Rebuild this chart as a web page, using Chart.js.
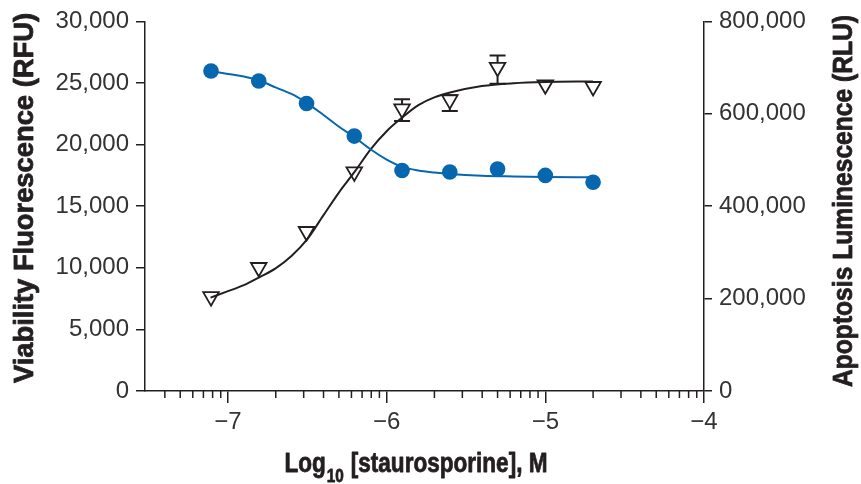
<!DOCTYPE html>
<html>
<head>
<meta charset="utf-8">
<script src="https://cdn.jsdelivr.net/npm/chart.js@4.4.0/dist/chart.umd.min.js"></script>
<style>
  html, body { margin: 0; padding: 0; background: #fff; }
  #wrap { width: 861px; height: 484px; position: relative; }
</style>
</head>
<body>
<div id="wrap"><canvas id="chart" width="861" height="484"></canvas></div>
<script>
// ── Data: log10 [staurosporine] (2-fold dilutions from 20 µM) ──
const logConc = [-7.107, -6.806, -6.505, -6.204, -5.903, -5.602, -5.301, -5.000, -4.699];
const viability = [25970, 25160, 23330, 20690, 17900, 17770, 18010, 17500, 16940];
const apoptosis = [204300, 267300, 345200, 474200, 610700, 630700, 700600, 662800, 659100];
const apoptosisErrHigh = [0, 0, 0, 0, 20900, 9500, 25600, 0, 0];
const apoptosisErrLow = [0, 0, 0, 0, 26400, 24900, 35400, 0, 0];

// fitted curves
const fitX = [-7.11, -7.0, -6.9, -6.8, -6.7, -6.6, -6.5, -6.4, -6.3, -6.2, -6.1, -6.0, -5.9, -5.8, -5.7, -5.6, -5.4, -5.2, -5.0, -4.7];
const viabilityFit = [25970, 25730, 25525, 25180, 24640, 24110, 23350, 22420, 21450, 20570, 19600, 18790, 18190, 17900, 17740, 17620, 17480, 17420, 17380, 17340];
const apoptosisFit = [202100, 216100, 229000, 246700, 265600, 292300, 328800, 379600, 430100, 475300, 523600, 562400, 592500, 618700, 635500, 646200, 660200, 666200, 668800, 670100];

// axes
const xMin = -7.523, xMax = -4;
const xMajorTicks = [-7, -6, -5, -4];
const xDecades = [-8, -7, -6, -5];
const minorMultipliers = [2, 3, 4, 5, 6, 7, 8, 9];
const leftMax = 30000, leftStep = 5000;
const rightMax = 800000, rightStep = 200000;

const leftTitle = 'Viability Fluorescence (RFU)';
const rightTitle = 'Apoptosis Luminescence (RLU)';
const bottomTitle = ['Log', '10', ' [staurosporine], M'];

const BLUE = '#0767ae';
const INK = '#231f20';
const TICK_FONT = { family: '"Liberation Sans", Arial, sans-serif', size: 24 };
const TITLE_FONT = '"Liberation Sans", Arial, sans-serif';
const TRI_R = 9;

const pts = (xs, ys) => xs.map((x, i) => ({ x, y: ys[i] }));
const fmt = v => Number(v).toLocaleString('en-US');

// ── minor (log) ticks on the x axis ──
const minorTicks = {
  id: 'minorTicks',
  afterDraw(chart) {
    const sx = chart.scales.x, ctx = chart.ctx, y0 = chart.chartArea.bottom;
    ctx.save();
    ctx.strokeStyle = INK;
    ctx.lineWidth = 1.5;
    xDecades.forEach(d => minorMultipliers.forEach(k => {
      const v = d + Math.log10(k);
      if (v <= sx.min + 0.02 || v >= sx.max) return;
      const px = sx.getPixelForValue(v);
      ctx.beginPath();
      ctx.moveTo(px, y0);
      ctx.lineTo(px, y0 + 7);
      ctx.stroke();
    }));
    ctx.restore();
  }
};

// ── error bars on apoptosis points (drawn outside the open symbol) ──
const errorBars = {
  id: 'errorBars',
  afterDatasetsDraw(chart) {
    const sx = chart.scales.x, sy = chart.scales.yR, ctx = chart.ctx;
    ctx.save();
    ctx.strokeStyle = INK;
    ctx.lineWidth = 2;
    logConc.forEach((x, i) => {
      const px = sx.getPixelForValue(x);
      const yc = sy.getPixelForValue(apoptosis[i]);
      if (apoptosisErrHigh[i] > 0) {
        const yt = sy.getPixelForValue(apoptosis[i] + apoptosisErrHigh[i]);
        ctx.beginPath();
        if (yt < yc - TRI_R / 2) { ctx.moveTo(px, yc - TRI_R / 2); ctx.lineTo(px, yt); }
        ctx.moveTo(px - 8, yt); ctx.lineTo(px + 8, yt);
        ctx.stroke();
      }
      if (apoptosisErrLow[i] > 0) {
        const yb = sy.getPixelForValue(apoptosis[i] - apoptosisErrLow[i]);
        ctx.beginPath();
        if (yb > yc + TRI_R) { ctx.moveTo(px, yc + TRI_R); ctx.lineTo(px, yb); }
        ctx.moveTo(px - 8, yb); ctx.lineTo(px + 8, yb);
        ctx.stroke();
      }
    });
    ctx.restore();
  }
};

// bold text, slightly stroked so it reads heavier
function boldText(ctx, text, x, y) {
  ctx.fillText(text, x, y);
  ctx.strokeText(text, x, y);
}

// condensed look: squeeze bold text horizontally to the reference width
function drawSqueezed(ctx, text, cx, cy, rot, target) {
  const w = ctx.measureText(text).width;
  ctx.save();
  ctx.translate(cx, cy);
  ctx.rotate(rot);
  ctx.scale(Math.min(1, target / w), 1);
  boldText(ctx, text, 0, 0);
  ctx.restore();
}

// ── axis titles (right one reads bottom-to-top, bottom one has a subscript) ──
const axisTitles = {
  id: 'axisTitles',
  afterDraw(chart) {
    const ctx = chart.ctx;
    ctx.save();
    ctx.fillStyle = INK;
    ctx.strokeStyle = INK;
    ctx.lineWidth = 0.8;
    ctx.lineJoin = 'round';
    ctx.font = 'bold 28px ' + TITLE_FONT;
    ctx.textAlign = 'center';
    ctx.textBaseline = 'alphabetic';

    drawSqueezed(ctx, leftTitle, 33, 198, -Math.PI / 2, 370);
    drawSqueezed(ctx, rightTitle, 852, 201, -Math.PI / 2, 372);

    // bottom
    const mainFont = 'bold 28px ' + TITLE_FONT;
    const subFont = 'bold 19px ' + TITLE_FONT;
    ctx.textAlign = 'left';
    ctx.font = mainFont;
    const w1 = ctx.measureText(bottomTitle[0]).width;
    const w3 = ctx.measureText(bottomTitle[2]).width;
    ctx.font = subFont;
    const w2 = ctx.measureText(bottomTitle[1]).width + 2;
    const total = w1 + w2 + w3;
    const k = 263 / total;
    const base = 471.5;
    ctx.translate(416 - 263 / 2, base);
    ctx.scale(k, 1);
    let x = 0;
    ctx.font = mainFont;
    boldText(ctx, bottomTitle[0], x, 0);
    x += w1 + 1;
    ctx.font = subFont;
    boldText(ctx, bottomTitle[1], x, 10);
    x += w2 - 1;
    ctx.font = mainFont;
    boldText(ctx, bottomTitle[2], x, 0);
    ctx.restore();
  }
};

new Chart(document.getElementById('chart'), {
  type: 'scatter',
  data: {
    datasets: [
      {
        label: 'Viability',
        data: pts(logConc, viability),
        yAxisID: 'yL',
        pointStyle: 'circle',
        pointRadius: 7.8,
        backgroundColor: BLUE,
        borderWidth: 0,
        order: 0
      },
      {
        label: 'Apoptosis',
        data: pts(logConc, apoptosis),
        yAxisID: 'yR',
        pointStyle: 'triangle',
        rotation: 180,
        pointRadius: TRI_R,
        backgroundColor: 'rgba(0,0,0,0)',
        borderColor: INK,
        borderWidth: 1.8,
        order: 1
      },
      {
        label: 'Viability fit',
        data: pts(fitX, viabilityFit),
        yAxisID: 'yL',
        showLine: true,
        cubicInterpolationMode: 'monotone',
        pointRadius: 0,
        borderColor: BLUE,
        borderWidth: 2,
        order: 2
      },
      {
        label: 'Apoptosis fit',
        data: pts(fitX, apoptosisFit),
        yAxisID: 'yR',
        showLine: true,
        cubicInterpolationMode: 'monotone',
        pointRadius: 0,
        borderColor: INK,
        borderWidth: 2,
        order: 3
      }
    ]
  },
  options: {
    responsive: false,
    animation: false,
    layout: { padding: { top: 19, left: 0, right: 0, bottom: 0 } },
    plugins: {
      legend: { display: false },
      tooltip: { enabled: false }
    },
    scales: {
      x: {
        type: 'linear',
        position: 'bottom',
        min: xMin,
        max: xMax,
        afterBuildTicks: s => { s.ticks = xMajorTicks.map(v => ({ value: v })); },
        afterFit: s => { s.height = 93; },
        ticks: {
          callback: v => '\u2212' + Math.abs(v),
          font: TICK_FONT,
          color: '#333',
          padding: 5,
          maxRotation: 0,
          autoSkip: false
        },
        grid: { drawOnChartArea: false, tickLength: 12, color: INK, lineWidth: 1.5 },
        border: { color: INK, width: 1.5 }
      },
      yL: {
        position: 'left',
        min: 0,
        max: leftMax,
        afterFit: s => { s.width = 145; },
        ticks: { stepSize: leftStep, callback: fmt, font: TICK_FONT, color: '#333', padding: 7 },
        grid: { drawOnChartArea: false, tickLength: 9, color: INK, lineWidth: 1.5 },
        border: { color: INK, width: 1.5 }
      },
      yR: {
        position: 'right',
        min: 0,
        max: rightMax,
        afterFit: s => { s.width = 157; },
        ticks: { stepSize: rightStep, callback: fmt, font: TICK_FONT, color: '#333', padding: 7 },
        grid: { drawOnChartArea: false, tickLength: 8, color: INK, lineWidth: 1.5 },
        border: { color: INK, width: 1.5 }
      }
    }
  },
  plugins: [minorTicks, errorBars, axisTitles]
});
</script>
</body>
</html>
